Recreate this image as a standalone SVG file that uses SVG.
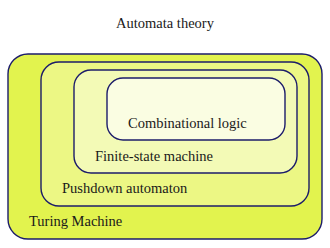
<svg xmlns="http://www.w3.org/2000/svg" width="330" height="248" viewBox="0 0 330 248">
<style>
.box{stroke:#1c1c6a;stroke-width:1.4}
.t{font-family:'Liberation Serif','DejaVu Serif',serif;font-size:14.5px;fill:#1a1a1a}
</style>
<rect width="330" height="248" fill="#ffffff"/>
<text class="t" x="165" y="28" text-anchor="middle" font-family="Liberation Serif, serif">Automata theory</text>
<g id="turing">
<rect class="box" x="8" y="54" width="314" height="185" rx="20" fill="#e2f34e"/>
<text class="t" x="29" y="226" font-family="Liberation Serif, serif">Turing Machine</text>
</g>
<g id="pushdown">
<rect class="box" x="41" y="62" width="268" height="144" rx="18" fill="#ecf784"/>
<text class="t" x="62" y="193" font-family="Liberation Serif, serif">Pushdown automaton</text>
</g>
<g id="finite">
<rect class="box" x="74" y="70" width="223" height="103" rx="17" fill="#f3fab6"/>
<text class="t" x="95" y="161" font-family="Liberation Serif, serif">Finite-state machine</text>
</g>
<g id="combinational">
<rect class="box" x="107" y="78" width="178" height="62" rx="16" fill="#fafde2"/>
<text class="t" x="128" y="128" font-family="Liberation Serif, serif">Combinational logic</text>
</g>
<g id="connectors"/>
</svg>
